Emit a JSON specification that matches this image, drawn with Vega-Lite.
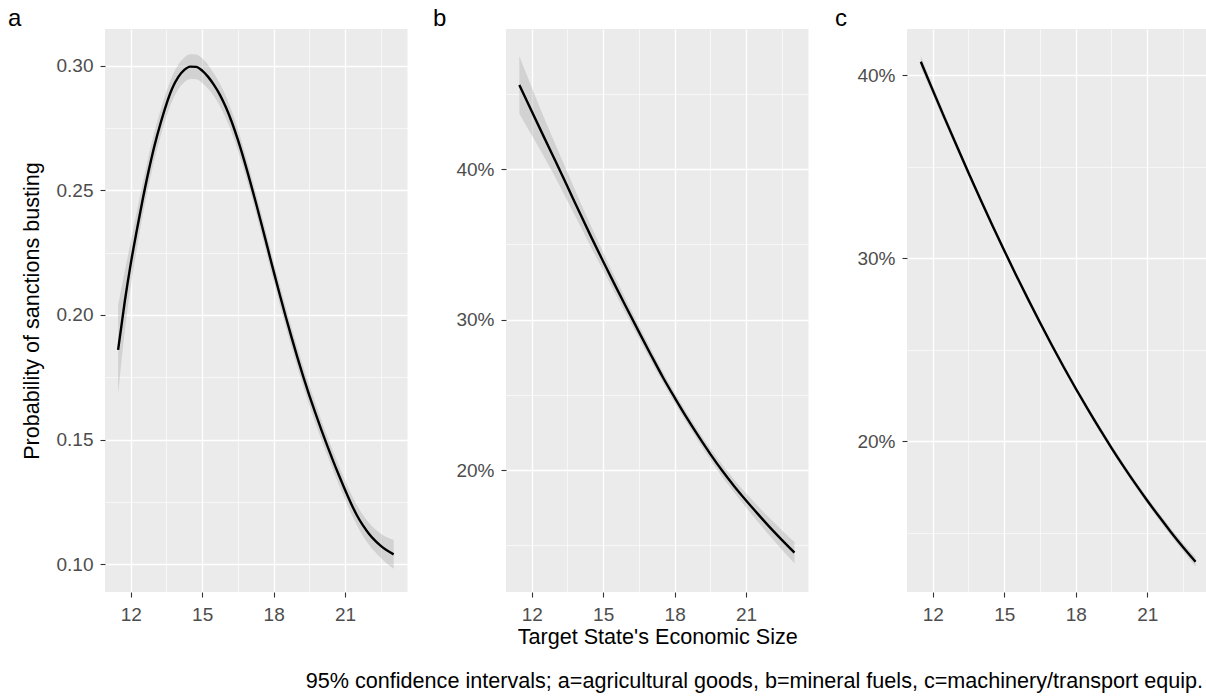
{
  "$schema": "https://vega.github.io/schema/vega-lite/v6.json",
  "background": "white",
  "padding": {"left": 8, "top": 7, "right": 0, "bottom": 0},
  "bounds": "flush",
  "spacing": 98,
  "title": {"text": "95% confidence intervals; a=agricultural goods, b=mineral fuels, c=machinery/transport equip.", "orient": "bottom", "anchor": "end", "frame": "bounds", "fontSize": 21.6, "fontWeight": "normal", "font": "Liberation Sans", "color": "#000000", "offset": 23, "dx": -4},
  "config": {
    "view": {"fill": "#EBEBEB", "stroke": null},
    "font": "Liberation Sans",
    "axis": {"domain": false, "labelFont": "Liberation Sans", "labelFontSize": 19, "labelColor": "#4D4D4D", "titleFont": "Liberation Sans", "titleFontSize": 21.6, "titleFontWeight": "normal", "titleColor": "#000000", "tickColor": "#333333", "tickWidth": 1.1, "tickSize": 5, "gridColor": "#FFFFFF", "labelOverlap": false, "labelFlush": false},
    "axisX": {"labelPadding": 8.5, "titlePadding": 1.5},
    "axisY": {"labelPadding": 7, "titlePadding": 13}
  },
  "datasets": {
    "a": [
      {"x": 11.47, "y": 0.186, "lo": 0.168, "hi": 0.204},
      {"x": 11.75, "y": 0.2054, "lo": 0.1934, "hi": 0.2174},
      {"x": 12.0, "y": 0.2205, "lo": 0.2115, "hi": 0.2295},
      {"x": 12.25, "y": 0.2337, "lo": 0.2262, "hi": 0.2412},
      {"x": 12.5, "y": 0.2462, "lo": 0.2397, "hi": 0.2527},
      {"x": 12.75, "y": 0.2577, "lo": 0.2517, "hi": 0.2637},
      {"x": 13.0, "y": 0.268, "lo": 0.2625, "hi": 0.2735},
      {"x": 13.25, "y": 0.2768, "lo": 0.2716, "hi": 0.282},
      {"x": 13.5, "y": 0.2846, "lo": 0.2796, "hi": 0.2896},
      {"x": 13.75, "y": 0.291, "lo": 0.286, "hi": 0.296},
      {"x": 14.0, "y": 0.2955, "lo": 0.2905, "hi": 0.3005},
      {"x": 14.25, "y": 0.2983, "lo": 0.2933, "hi": 0.3033},
      {"x": 14.5, "y": 0.2996, "lo": 0.2946, "hi": 0.3046},
      {"x": 14.75, "y": 0.2995, "lo": 0.2945, "hi": 0.3045},
      {"x": 15.0, "y": 0.298, "lo": 0.293, "hi": 0.303},
      {"x": 15.25, "y": 0.2955, "lo": 0.2907, "hi": 0.3003},
      {"x": 15.5, "y": 0.2922, "lo": 0.2876, "hi": 0.2968},
      {"x": 15.75, "y": 0.2882, "lo": 0.2837, "hi": 0.2927},
      {"x": 16.0, "y": 0.2832, "lo": 0.2788, "hi": 0.2876},
      {"x": 16.25, "y": 0.2772, "lo": 0.2729, "hi": 0.2815},
      {"x": 16.5, "y": 0.2702, "lo": 0.266, "hi": 0.2744},
      {"x": 16.75, "y": 0.2624, "lo": 0.2583, "hi": 0.2665},
      {"x": 17.0, "y": 0.254, "lo": 0.25, "hi": 0.258},
      {"x": 17.25, "y": 0.2452, "lo": 0.2412, "hi": 0.2492},
      {"x": 17.5, "y": 0.2361, "lo": 0.2321, "hi": 0.2401},
      {"x": 17.75, "y": 0.2268, "lo": 0.2228, "hi": 0.2308},
      {"x": 18.0, "y": 0.2175, "lo": 0.2135, "hi": 0.2215},
      {"x": 18.25, "y": 0.2084, "lo": 0.2044, "hi": 0.2124},
      {"x": 18.5, "y": 0.1996, "lo": 0.1956, "hi": 0.2036},
      {"x": 18.75, "y": 0.1911, "lo": 0.1871, "hi": 0.1951},
      {"x": 19.0, "y": 0.1829, "lo": 0.1789, "hi": 0.1869},
      {"x": 19.25, "y": 0.1751, "lo": 0.1711, "hi": 0.1791},
      {"x": 19.5, "y": 0.1677, "lo": 0.1637, "hi": 0.1717},
      {"x": 19.75, "y": 0.1607, "lo": 0.1567, "hi": 0.1647},
      {"x": 20.0, "y": 0.154, "lo": 0.1501, "hi": 0.1579},
      {"x": 20.25, "y": 0.1476, "lo": 0.1438, "hi": 0.1514},
      {"x": 20.5, "y": 0.1414, "lo": 0.1376, "hi": 0.1452},
      {"x": 20.75, "y": 0.1355, "lo": 0.1317, "hi": 0.1393},
      {"x": 21.0, "y": 0.1298, "lo": 0.126, "hi": 0.1336},
      {"x": 21.25, "y": 0.1244, "lo": 0.1205, "hi": 0.1283},
      {"x": 21.5, "y": 0.1196, "lo": 0.1156, "hi": 0.1236},
      {"x": 21.75, "y": 0.1156, "lo": 0.1114, "hi": 0.1198},
      {"x": 22.0, "y": 0.1123, "lo": 0.1079, "hi": 0.1167},
      {"x": 22.25, "y": 0.1096, "lo": 0.105, "hi": 0.1142},
      {"x": 22.5, "y": 0.1074, "lo": 0.1025, "hi": 0.1123},
      {"x": 22.75, "y": 0.1056, "lo": 0.1003, "hi": 0.1109},
      {"x": 23.04, "y": 0.104, "lo": 0.0982, "hi": 0.1098}
    ],
    "b": [
      {"x": 11.48, "y": 0.4561, "lo": 0.4371, "hi": 0.4751},
      {"x": 12.0, "y": 0.4386, "lo": 0.4226, "hi": 0.4546},
      {"x": 12.5, "y": 0.4219, "lo": 0.4089, "hi": 0.4349},
      {"x": 13.0, "y": 0.4053, "lo": 0.3943, "hi": 0.4163},
      {"x": 13.5, "y": 0.3885, "lo": 0.379, "hi": 0.398},
      {"x": 14.0, "y": 0.3716, "lo": 0.3636, "hi": 0.3796},
      {"x": 14.5, "y": 0.3549, "lo": 0.3479, "hi": 0.3619},
      {"x": 15.0, "y": 0.3387, "lo": 0.3327, "hi": 0.3447},
      {"x": 15.5, "y": 0.3228, "lo": 0.3176, "hi": 0.328},
      {"x": 16.0, "y": 0.3073, "lo": 0.3026, "hi": 0.312},
      {"x": 16.5, "y": 0.2919, "lo": 0.2877, "hi": 0.2961},
      {"x": 17.0, "y": 0.2767, "lo": 0.2729, "hi": 0.2805},
      {"x": 17.5, "y": 0.2619, "lo": 0.2584, "hi": 0.2654},
      {"x": 18.0, "y": 0.2482, "lo": 0.2448, "hi": 0.2516},
      {"x": 18.5, "y": 0.235, "lo": 0.2316, "hi": 0.2384},
      {"x": 19.0, "y": 0.2225, "lo": 0.219, "hi": 0.226},
      {"x": 19.5, "y": 0.2106, "lo": 0.2069, "hi": 0.2143},
      {"x": 20.0, "y": 0.1995, "lo": 0.1955, "hi": 0.2035},
      {"x": 20.5, "y": 0.1893, "lo": 0.185, "hi": 0.1936},
      {"x": 21.0, "y": 0.1798, "lo": 0.1751, "hi": 0.1845},
      {"x": 21.5, "y": 0.1707, "lo": 0.1655, "hi": 0.1759},
      {"x": 22.0, "y": 0.1619, "lo": 0.1561, "hi": 0.1677},
      {"x": 22.5, "y": 0.1536, "lo": 0.1472, "hi": 0.16},
      {"x": 23.03, "y": 0.1451, "lo": 0.1381, "hi": 0.1521}
    ],
    "c": [
      {"x": 11.5, "y": 0.4074, "lo": 0.4044, "hi": 0.4104},
      {"x": 12.0, "y": 0.3919, "lo": 0.3893, "hi": 0.3945},
      {"x": 12.5, "y": 0.3766, "lo": 0.3743, "hi": 0.3789},
      {"x": 13.0, "y": 0.3616, "lo": 0.3596, "hi": 0.3636},
      {"x": 13.5, "y": 0.3468, "lo": 0.345, "hi": 0.3486},
      {"x": 14.0, "y": 0.3323, "lo": 0.3307, "hi": 0.3339},
      {"x": 14.5, "y": 0.3181, "lo": 0.3166, "hi": 0.3196},
      {"x": 15.0, "y": 0.3043, "lo": 0.3028, "hi": 0.3058},
      {"x": 15.5, "y": 0.2908, "lo": 0.2893, "hi": 0.2923},
      {"x": 16.0, "y": 0.2777, "lo": 0.2762, "hi": 0.2792},
      {"x": 16.5, "y": 0.2649, "lo": 0.2634, "hi": 0.2664},
      {"x": 17.0, "y": 0.2525, "lo": 0.251, "hi": 0.254},
      {"x": 17.5, "y": 0.2405, "lo": 0.239, "hi": 0.242},
      {"x": 18.0, "y": 0.2289, "lo": 0.2274, "hi": 0.2304},
      {"x": 18.5, "y": 0.2177, "lo": 0.2162, "hi": 0.2192},
      {"x": 19.0, "y": 0.2069, "lo": 0.2054, "hi": 0.2084},
      {"x": 19.5, "y": 0.1965, "lo": 0.1949, "hi": 0.1981},
      {"x": 20.0, "y": 0.1865, "lo": 0.1849, "hi": 0.1881},
      {"x": 20.5, "y": 0.1769, "lo": 0.1752, "hi": 0.1786},
      {"x": 21.0, "y": 0.1677, "lo": 0.1659, "hi": 0.1695},
      {"x": 21.5, "y": 0.1589, "lo": 0.157, "hi": 0.1608},
      {"x": 22.0, "y": 0.1504, "lo": 0.1484, "hi": 0.1524},
      {"x": 22.5, "y": 0.1423, "lo": 0.1401, "hi": 0.1445},
      {"x": 23.03, "y": 0.1342, "lo": 0.1317, "hi": 0.1367}
    ]
  },
  "hconcat": [
    {
      "width": 302.5, "height": 563,
      "title": {"text": "a", "anchor": "start", "frame": "group", "dx": -97, "offset": -21, "baseline": "alphabetic", "fontSize": 24, "fontWeight": "normal", "font": "Liberation Sans", "color": "#000000"},
      "data": {"name": "a"},
      "encoding": {
        "x": {"field": "x", "type": "quantitative", "scale": {"domain": [10.92, 23.62], "nice": false, "zero": false},
          "axis": {"title": null, "values": [12, 13.5, 15, 16.5, 18, 19.5, 21, 22.5], "labelExpr": "datum.value % 3 == 0 ? datum.label : ''", "tickOpacity": {"condition": {"test": "datum.value % 3 == 0", "value": 1}, "value": 0}, "gridWidth": {"condition": {"test": "datum.value % 3 == 0", "value": 1.3}, "value": 0.6}}}
      },
      "layer": [
        {"mark": {"type": "area", "fill": "#999999", "opacity": 0.3, "interpolate": "monotone"},
         "encoding": {"y": {"field": "lo", "type": "quantitative", "scale": {"domain": [0.0889, 0.3147], "nice": false, "zero": false},
            "axis": {"title": "Probability of sanctions busting", "format": ".2f", "values": [0.1, 0.125, 0.15, 0.175, 0.2, 0.225, 0.25, 0.275, 0.3], "labelExpr": "abs(datum.value*20 - round(datum.value*20)) < 0.001 ? datum.label : ''", "tickOpacity": {"condition": {"test": "abs(datum.value*20 - round(datum.value*20)) < 0.001", "value": 1}, "value": 0}, "gridWidth": {"condition": {"test": "abs(datum.value*20 - round(datum.value*20)) < 0.001", "value": 1.3}, "value": 0.6}}},
          "y2": {"field": "hi"}}},
        {"mark": {"type": "line", "color": "#000000", "strokeWidth": 2.4, "interpolate": "monotone"},
         "encoding": {"y": {"field": "y", "type": "quantitative", "scale": {"domain": [0.0889, 0.3147], "nice": false, "zero": false},
            "axis": {"title": "Probability of sanctions busting", "format": ".2f", "values": [0.1, 0.125, 0.15, 0.175, 0.2, 0.225, 0.25, 0.275, 0.3], "labelExpr": "abs(datum.value*20 - round(datum.value*20)) < 0.001 ? datum.label : ''", "tickOpacity": {"condition": {"test": "abs(datum.value*20 - round(datum.value*20)) < 0.001", "value": 1}, "value": 0}, "gridWidth": {"condition": {"test": "abs(datum.value*20 - round(datum.value*20)) < 0.001", "value": 1.3}, "value": 0.6}}}}}
      ]
    },
    {
      "width": 302.5, "height": 563,
      "title": {"text": "b", "anchor": "start", "frame": "group", "dx": -73, "offset": -21, "baseline": "alphabetic", "fontSize": 24, "fontWeight": "normal", "font": "Liberation Sans", "color": "#000000"},
      "data": {"name": "b"},
      "encoding": {
        "x": {"field": "x", "type": "quantitative", "scale": {"domain": [10.92, 23.62], "nice": false, "zero": false},
          "axis": {"title": "Target State's Economic Size", "values": [12, 13.5, 15, 16.5, 18, 19.5, 21, 22.5], "labelExpr": "datum.value % 3 == 0 ? datum.label : ''", "tickOpacity": {"condition": {"test": "datum.value % 3 == 0", "value": 1}, "value": 0}, "gridWidth": {"condition": {"test": "datum.value % 3 == 0", "value": 1.3}, "value": 0.6}}}
      },
      "layer": [
        {"mark": {"type": "area", "fill": "#999999", "opacity": 0.3, "interpolate": "monotone"},
         "encoding": {"y": {"field": "lo", "type": "quantitative", "scale": {"domain": [0.1189, 0.4933], "nice": false, "zero": false},
            "axis": {"title": null, "format": ".0%", "values": [0.15, 0.2, 0.25, 0.3, 0.35, 0.4, 0.45], "labelExpr": "abs(datum.value*10 - round(datum.value*10)) < 0.001 ? datum.label : ''", "tickOpacity": {"condition": {"test": "abs(datum.value*10 - round(datum.value*10)) < 0.001", "value": 1}, "value": 0}, "gridWidth": {"condition": {"test": "abs(datum.value*10 - round(datum.value*10)) < 0.001", "value": 1.3}, "value": 0.6}}},
          "y2": {"field": "hi"}}},
        {"mark": {"type": "line", "color": "#000000", "strokeWidth": 2.4, "interpolate": "monotone"},
         "encoding": {"y": {"field": "y", "type": "quantitative", "scale": {"domain": [0.1189, 0.4933], "nice": false, "zero": false},
            "axis": {"title": null, "format": ".0%", "values": [0.15, 0.2, 0.25, 0.3, 0.35, 0.4, 0.45], "labelExpr": "abs(datum.value*10 - round(datum.value*10)) < 0.001 ? datum.label : ''", "tickOpacity": {"condition": {"test": "abs(datum.value*10 - round(datum.value*10)) < 0.001", "value": 1}, "value": 0}, "gridWidth": {"condition": {"test": "abs(datum.value*10 - round(datum.value*10)) < 0.001", "value": 1.3}, "value": 0.6}}}}}
      ]
    },
    {
      "width": 300, "height": 563,
      "title": {"text": "c", "anchor": "start", "frame": "group", "dx": -72, "offset": -21, "baseline": "alphabetic", "fontSize": 24, "fontWeight": "normal", "font": "Liberation Sans", "color": "#000000"},
      "data": {"name": "c"},
      "encoding": {
        "x": {"field": "x", "type": "quantitative", "scale": {"domain": [10.92, 23.51], "nice": false, "zero": false},
          "axis": {"title": null, "values": [12, 13.5, 15, 16.5, 18, 19.5, 21, 22.5], "labelExpr": "datum.value % 3 == 0 ? datum.label : ''", "tickOpacity": {"condition": {"test": "datum.value % 3 == 0", "value": 1}, "value": 0}, "gridWidth": {"condition": {"test": "datum.value % 3 == 0", "value": 1.3}, "value": 0.6}}}
      },
      "layer": [
        {"mark": {"type": "area", "fill": "#999999", "opacity": 0.3, "interpolate": "monotone"},
         "encoding": {"y": {"field": "lo", "type": "quantitative", "scale": {"domain": [0.1177, 0.4253], "nice": false, "zero": false},
            "axis": {"title": null, "format": ".0%", "values": [0.15, 0.2, 0.25, 0.3, 0.35, 0.4], "labelExpr": "abs(datum.value*10 - round(datum.value*10)) < 0.001 ? datum.label : ''", "tickOpacity": {"condition": {"test": "abs(datum.value*10 - round(datum.value*10)) < 0.001", "value": 1}, "value": 0}, "gridWidth": {"condition": {"test": "abs(datum.value*10 - round(datum.value*10)) < 0.001", "value": 1.3}, "value": 0.6}}},
          "y2": {"field": "hi"}}},
        {"mark": {"type": "line", "color": "#000000", "strokeWidth": 2.4, "interpolate": "monotone"},
         "encoding": {"y": {"field": "y", "type": "quantitative", "scale": {"domain": [0.1177, 0.4253], "nice": false, "zero": false},
            "axis": {"title": null, "format": ".0%", "values": [0.15, 0.2, 0.25, 0.3, 0.35, 0.4], "labelExpr": "abs(datum.value*10 - round(datum.value*10)) < 0.001 ? datum.label : ''", "tickOpacity": {"condition": {"test": "abs(datum.value*10 - round(datum.value*10)) < 0.001", "value": 1}, "value": 0}, "gridWidth": {"condition": {"test": "abs(datum.value*10 - round(datum.value*10)) < 0.001", "value": 1.3}, "value": 0.6}}}}}
      ]
    }
  ]
}
